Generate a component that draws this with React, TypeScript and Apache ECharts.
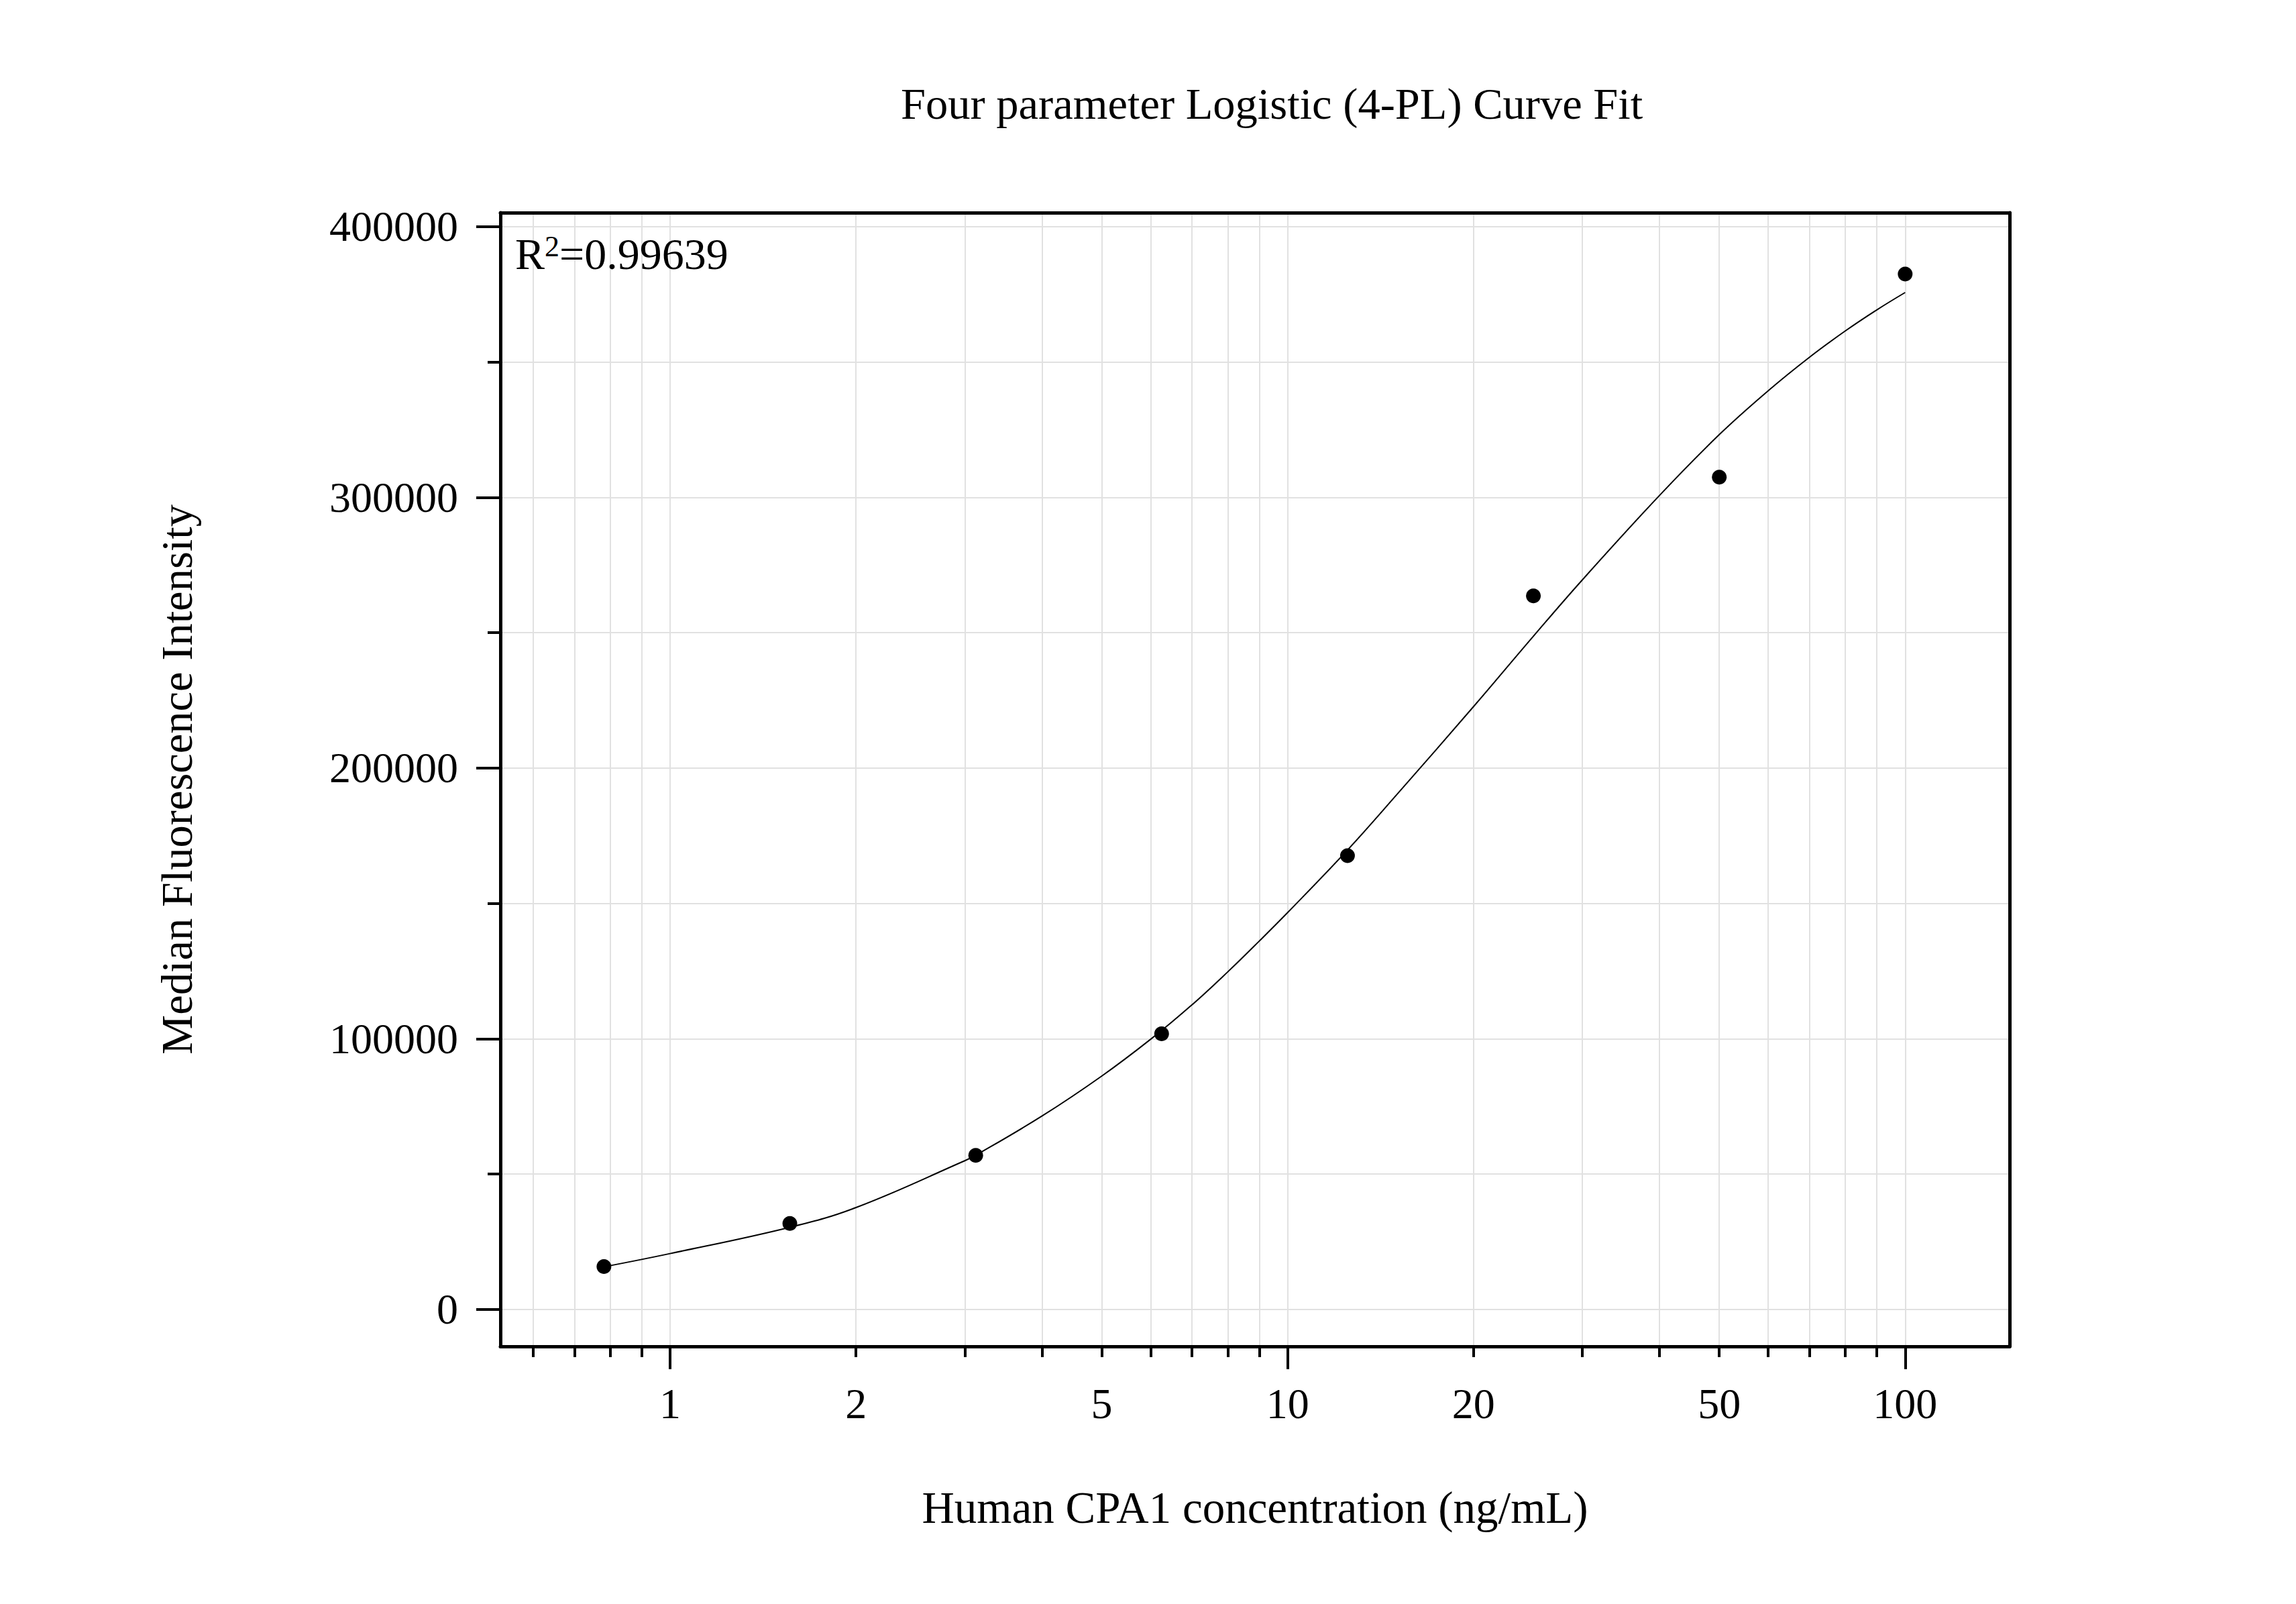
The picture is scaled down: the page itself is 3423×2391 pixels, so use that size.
import { useEffect, useRef } from 'react';
import * as echarts from 'echarts';

// measured points (ng/mL, MFI)
const concentrations = [0.78125, 1.5625, 3.125, 6.25, 12.5, 25, 50, 100];
const mfiValues = [15800, 31700, 56900, 101800, 167600, 263600, 307500, 382500];

// fitted 4-PL curve
const fitX = [0.78125, 1, 1.5625, 2, 3, 3.125, 4, 5, 6, 7, 8, 9, 10, 12.5, 15, 20, 25, 30, 40, 50, 60, 70, 80, 90, 100];
const fitY = [15700, 20600, 30300, 37600, 54900, 56900, 71400, 86200, 99800, 112500, 124700, 136100, 146600, 169700, 190000, 222700, 248700, 269500, 300700, 323200, 339400, 351800, 361500, 369300, 375700];

const xMajorTicks = [1, 10, 100];
const xMinorTicks = [0.6, 0.7, 0.8, 0.9, 2, 3, 4, 5, 6, 7, 8, 9, 20, 30, 40, 50, 60, 70, 80, 90];
const xLabels = [1, 2, 5, 10, 20, 50, 100];
const yMajorTicks = [0, 100000, 200000, 300000, 400000];
const yMinorTicks = [50000, 150000, 250000, 350000];

const X_MIN = 0.531;
const X_MAX = 147.6;
const Y_MIN = -13700;
const Y_MAX = 405200;

const FONT = "'Liberation Serif', 'Times New Roman', serif";
const GRID_COLOR = '#e1e1e1';

export default function App() {
  const chartRef = useRef<HTMLDivElement>(null);

  useEffect(() => {
    if (!chartRef.current) return;
    const chart = echarts.init(chartRef.current, undefined, { renderer: 'svg' });

    const logBase = {
      type: 'log' as const,
      logBase: 10,
      min: X_MIN,
      max: X_MAX,
      gridIndex: 0,
    };
    const valueBase = {
      type: 'value' as const,
      min: Y_MIN,
      max: Y_MAX,
      gridIndex: 0,
    };
    const hidden = {
      axisLine: { show: false, onZero: false },
      axisTick: { show: false },
      axisLabel: { show: false },
      splitLine: { show: false },
      minorTick: { show: false },
    };
    const frameLine = { show: true, onZero: false, lineStyle: { color: '#000', width: 5 } };
    const tickStyle = { color: '#000', width: 4 };

    const option: echarts.EChartsOption = {
      animation: false,
      backgroundColor: '#fff',
      title: {
        text: 'Four parameter Logistic (4-PL) Curve Fit',
        left: 1343,
        top: 121,
        padding: 0,
        textStyle: { fontSize: 66.5, fontWeight: 'normal', fontFamily: FONT, color: '#000' },
      },
      grid: { left: 746, top: 317, right: 427, bottom: 384, containLabel: false },
      xAxis: [
        {
          // data axis: frame line, labels and title
          ...logBase,
          ...hidden,
          position: 'bottom',
          z: 3,
          axisLine: frameLine,
          axisLabel: {
            show: true,
            customValues: xLabels,
            margin: 53,
            fontSize: 64,
            fontFamily: FONT,
            color: '#000',
            formatter: (v: number) => String(Math.round(v * 1000) / 1000),
          },
          name: 'Human CPA1 concentration (ng/mL)',
          nameLocation: 'middle',
          nameGap: 206,
          nameTextStyle: { fontSize: 67, fontFamily: FONT, color: '#000' },
        },
        {
          ...logBase,
          ...hidden,
          position: 'bottom',
          z: 3,
          axisTick: { show: true, customValues: xMajorTicks, length: 34, lineStyle: tickStyle },
        },
        {
          ...logBase,
          ...hidden,
          position: 'bottom',
          z: 3,
          axisTick: { show: true, customValues: xMinorTicks, length: 16, lineStyle: tickStyle },
        },
        {
          ...logBase,
          ...hidden,
          position: 'bottom',
          z: 0,
          axisTick: { show: false, customValues: [...xMinorTicks, ...xMajorTicks].sort((a, b) => a - b) },
          splitLine: { show: true, lineStyle: { color: GRID_COLOR, width: 2 } },
        },
        {
          ...logBase,
          ...hidden,
          position: 'top',
          z: 3,
          axisLine: frameLine,
        },
      ],
      yAxis: [
        {
          ...valueBase,
          ...hidden,
          position: 'left',
          z: 3,
          axisLine: frameLine,
          axisTick: { show: true, customValues: yMajorTicks, length: 36, lineStyle: tickStyle },
          axisLabel: {
            show: true,
            customValues: yMajorTicks,
            margin: 63,
            fontSize: 64,
            fontFamily: FONT,
            color: '#000',
            formatter: (v: number) => String(v),
          },
          name: 'Median Fluorescence Intensity',
          nameLocation: 'middle',
          nameRotate: 90,
          nameGap: 449,
          nameTextStyle: { fontSize: 66.5, fontFamily: FONT, color: '#000' },
        },
        {
          ...valueBase,
          ...hidden,
          position: 'left',
          z: 3,
          axisTick: { show: true, customValues: yMinorTicks, length: 19, lineStyle: tickStyle },
        },
        {
          ...valueBase,
          ...hidden,
          position: 'left',
          z: 0,
          axisTick: { show: false, customValues: [...yMajorTicks, ...yMinorTicks].sort((a, b) => a - b) },
          splitLine: { show: true, lineStyle: { color: GRID_COLOR, width: 2 } },
        },
        {
          ...valueBase,
          ...hidden,
          position: 'right',
          z: 3,
          axisLine: frameLine,
        },
      ],
      graphic: [
        {
          type: 'text',
          x: 768,
          y: 345,
          z: 10,
          style: {
            text: '{r|R}{s|2}{r|=0.99639}',
            verticalAlign: 'top',
            fill: '#000',
            rich: {
              r: { fontSize: 66, fontFamily: FONT, fill: '#000' },
              s: { fontSize: 44, fontFamily: FONT, fill: '#000', verticalAlign: 'top' },
            },
          },
        },
      ],
      series: [
        {
          name: 'Fit',
          type: 'line',
          xAxisIndex: 0,
          yAxisIndex: 0,
          data: fitX.map((x, i) => [x, fitY[i]]),
          showSymbol: false,
          smooth: 0.4,
          lineStyle: { color: '#000', width: 2 },
          z: 2,
        },
        {
          name: 'Standards',
          type: 'scatter',
          xAxisIndex: 0,
          yAxisIndex: 0,
          data: concentrations.map((x, i) => [x, mfiValues[i]]),
          symbol: 'circle',
          symbolSize: 22,
          itemStyle: { color: '#000', opacity: 1 },
          z: 3,
        },
      ],
    };

    chart.setOption(option);

    return () => {
      chart.dispose();
    };
  }, []);

  return (
    <div
      ref={chartRef}
      style={{ position: 'fixed', left: 0, top: 0, width: '3423px', height: '2391px' }}
    />
  );
}
